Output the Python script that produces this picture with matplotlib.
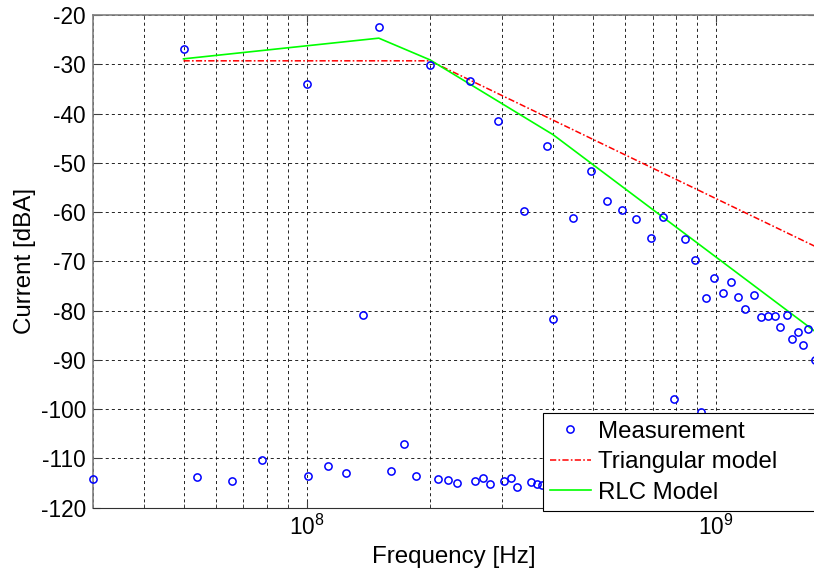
import matplotlib
matplotlib.use("Agg")
import matplotlib.pyplot as plt
from matplotlib.ticker import LogLocator, FixedLocator

plt.rcParams['font.family'] = ['Liberation Sans', 'DejaVu Sans']
plt.rcParams['mathtext.fontset'] = 'custom'
plt.rcParams['mathtext.rm'] = 'Liberation Sans'
plt.rcParams['axes.unicode_minus'] = False
plt.rcParams['lines.scale_dashes'] = False

# measured spectrum (Hz, dBA)
meas_freq = [5.0e7, 1.0e8, 1.37e8, 1.5e8, 2.0e8, 2.5e8, 2.93e8, 3.4e8, 3.86e8, 3.99e8,
             4.47e8, 4.95e8, 5.43e8, 5.89e8, 6.37e8, 6.94e8, 7.43e8, 7.9e8, 8.41e8, 8.86e8,
             9.2e8, 9.46e8, 9.9e8, 1.04e9, 1.09e9, 1.13e9, 1.18e9, 1.24e9, 1.29e9, 1.34e9,
             1.39e9, 1.43e9, 1.49e9, 1.53e9, 1.585e9, 1.63e9, 1.68e9, 1.75e9,
             3.0e7, 5.38e7, 6.58e7, 7.76e7, 1.01e8, 1.13e8, 1.25e8, 1.61e8, 1.73e8, 1.85e8,
             2.09e8, 2.21e8, 2.33e8, 2.57e8, 2.69e8, 2.81e8, 3.04e8, 3.16e8, 3.27e8, 3.53e8,
             3.65e8, 3.75e8]
meas_db = [-27.0, -34.0, -80.8, -22.4, -30.1, -33.4, -41.6, -59.7, -46.5, -81.7,
           -61.3, -51.6, -57.8, -59.5, -61.4, -65.2, -60.9, -98.0, -65.5, -69.7,
           -100.6, -77.4, -73.3, -76.5, -74.2, -77.3, -79.7, -76.9, -81.3, -81.0,
           -81.1, -83.4, -80.8, -85.8, -84.3, -86.9, -83.8, -90.0,
           -114.2, -113.8, -114.5, -110.3, -113.6, -111.6, -113.0, -112.6, -107.1, -113.6,
           -114.2, -114.3, -114.9, -114.5, -114.0, -115.1, -114.5, -114.0, -115.9, -114.7,
           -115.1, -115.3]

# triangular model
tri_freq = [5e7, 2e8, 1.75e9]
tri_db = [-29.3, -29.3, -67.0]

# RLC model
rlc_freq = [5e7, 1.5e8, 2e8, 4e8, 1.75e9]
rlc_db = [-28.9, -24.7, -29.1, -44.3, -84.3]

fig = plt.figure(figsize=(8.14, 5.77), dpi=100)
ax = fig.add_axes([92.7 / 814, 1 - 507.7 / 577, (815.5 - 92.7) / 814, 492.7 / 577])

ax.plot(meas_freq, meas_db, linestyle='none', marker='o', markersize=5.2,
        markerfacecolor='none', markeredgecolor='blue', markeredgewidth=1.1,
        clip_on=False, label='Measurement', zorder=4)
ax.plot(tri_freq, tri_db, color='red', linewidth=1.1, dashes=(4.5, 1.6, 1.2, 1.6),
        label='Triangular model', zorder=3)
ax.plot(rlc_freq, rlc_db, color='#00ff00', linewidth=1.2, label='RLC Model', zorder=3)

ax.set_xscale('log')
ax.set_xlim(3e7, 1.75e9)
ax.set_ylim(-120, -20)
ax.yaxis.set_major_locator(FixedLocator(list(range(-120, -19, 10))))
ax.xaxis.set_major_locator(LogLocator(base=10, numticks=20))
ax.xaxis.set_minor_locator(LogLocator(base=10, subs=range(2, 10), numticks=20))

ax.grid(True, which='both', color='black', linewidth=0.6, dashes=(2.2, 2.2))
ax.set_axisbelow(True)

ax.tick_params(which='both', direction='in', top=True, right=True, labelsize=16.3,
               colors='#404040', labelcolor='black')
ax.tick_params(which='major', length=5)
ax.tick_params(which='minor', length=3)
ax.tick_params(axis='y', pad=4.8)
ax.tick_params(axis='x', pad=5)

for side in ['left', 'top']:
    ax.spines[side].set_color('#808080')
    ax.spines[side].set_linewidth(1.2)
ax.spines['bottom'].set_color('#303030')
ax.spines['bottom'].set_linewidth(0.8)

ax.set_xlabel('Frequency [Hz]', fontsize=17.4)
ax.set_ylabel('Current [dBA]', fontsize=17.4)
ax.xaxis.set_label_coords(0.4995, -0.078)
ax.yaxis.set_label_coords(-0.078, 0.5)

leg_top = 1 - 413.3 / 577
leg = fig.legend(loc='upper left', bbox_to_anchor=(542.7 / 814, leg_top - 0.001, 0.4, 0.001),
                 mode='expand', numpoints=1, fontsize=17.3, frameon=True, fancybox=False,
                 borderpad=0.3, labelspacing=0.36, handlelength=1.7, handletextpad=0.32,
                 borderaxespad=0)
leg.get_frame().set_edgecolor('black')
leg.get_frame().set_linewidth(0.8)
leg.get_frame().set_alpha(1)

fig.savefig('out.png', dpi=100, facecolor='white')
